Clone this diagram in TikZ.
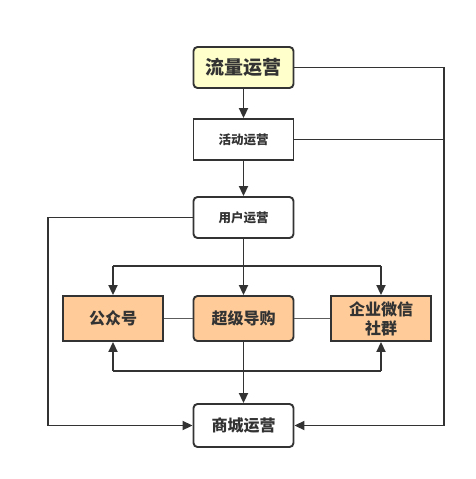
\documentclass[tikz,border=0pt]{standalone}
\usepackage{fontspec}
\setmainfont{Noto Sans CJK SC}
\usetikzlibrary{arrows.meta}
\definecolor{ln}{HTML}{333333}
\definecolor{yel}{HTML}{FFFFCC}
\definecolor{org}{HTML}{FFCC99}
\tikzset{
  box/.style={draw=ln, line width=1.9pt, minimum width=100pt, inner sep=0pt, align=center, text=ln, font=\bfseries},
  rbox/.style={box, rounded corners=4pt},
  conn/.style={draw=ln, line width=1.9pt},
  arr/.style={conn, -{Triangle[length=10pt,width=9pt]}},
  thin/.style={draw=ln!80, line width=1.4pt}
}
\begin{document}
\begin{tikzpicture}[x=1pt,y=-1pt]
\useasboundingbox (0,0) rectangle (476,479);
\node[rbox, fill=yel, minimum height=41pt, font=\bfseries\fontsize{19}{21}\selectfont] (ll) at (243.5,67.5) {流量运营};
\node[box, fill=white, minimum height=41pt, font=\bfseries\fontsize{12.5}{14}\selectfont] (hd) at (243.5,139.5) {活动运营};
\node[rbox, fill=white, minimum height=41pt, font=\bfseries\fontsize{12.5}{14}\selectfont] (yh) at (243.5,217.5) {用户运营};
\node[box, fill=org, minimum height=45pt, font=\bfseries\fontsize{16}{19}\selectfont] (gz) at (113,318.5) {公众号};
\node[rbox, fill=org, minimum height=45pt, font=\bfseries\fontsize{16}{19}\selectfont] (cj) at (243.5,318.5) {超级导购};
\node[box, fill=org, minimum height=45pt, font=\bfseries\fontsize{16}{19}\selectfont] (qy) at (381,318.5) {企业微信\\社群};
\node[rbox, fill=white, minimum height=43pt, font=\bfseries\fontsize{16}{19}\selectfont] (sc) at (243.5,425.5) {商城运营};

\coordinate (rt) at (444,67.5);
\coordinate (rb) at (444,425.5);
\coordinate (rm) at (444,139.5);
\coordinate (lt) at (48,217.5);
\coordinate (lb) at (48,425.5);
\coordinate (dl) at (113,266);
\coordinate (dr) at (381,266);
\coordinate (ul) at (113,371);
\coordinate (ur) at (381,371);

\draw[arr] (ll) -- (hd);
\draw[arr] (hd) -- (yh);
\draw[arr] (yh) -- (cj);
\draw[conn] (dl) -- (dr);
\draw[arr] (dl) -- (gz);
\draw[arr] (dr) -- (qy);
\draw[thin] (gz) -- (cj);
\draw[thin] (cj) -- (qy);
\draw[arr] (cj) -- (sc);
\draw[conn] (ul) -- (ur);
\draw[arr] (ul) -- (gz);
\draw[arr] (ur) -- (qy);
\draw[conn] (ll) -- (rt) -- (rb);
\draw[conn] (hd) -- (rm);
\draw[arr] (rb) -- (sc);
\draw[conn] (yh) -- (lt) -- (lb);
\draw[arr] (lb) -- (sc);
\end{tikzpicture}
\end{document}
